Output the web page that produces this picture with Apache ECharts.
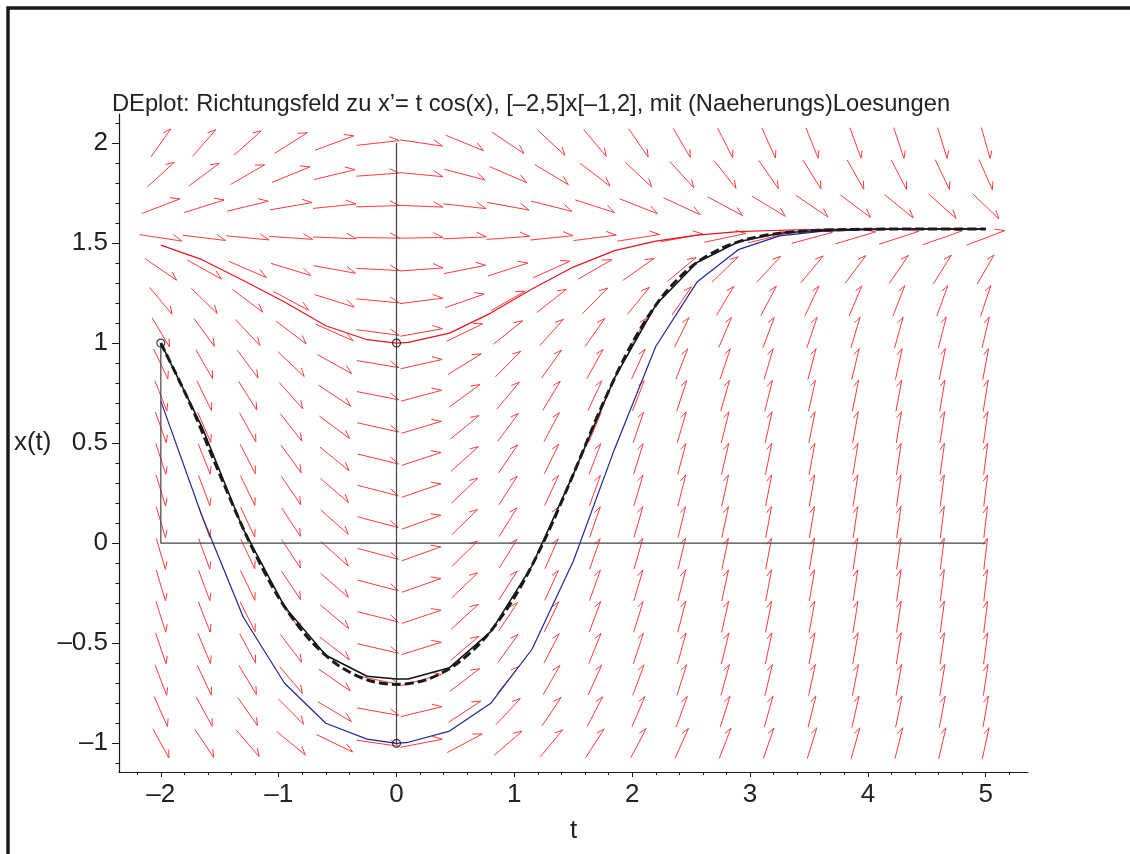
<!DOCTYPE html>
<html>
<head>
  <meta charset="utf-8">
  <title>DEplot Richtungsfeld</title>
  <script src="https://cdn.jsdelivr.net/npm/echarts@6/dist/echarts.min.js"></script>
  <style>
    html, body { margin: 0; padding: 0; background: #fff; }
    #main { width: 1130px; height: 854px; }
  </style>
</head>
<body>
<div id="main"></div>
<script type="text/javascript">
// Raster des Richtungsfeldes (20 x 20 Pfeile)
var fieldT = [-2, -1.632, -1.263, -0.895, -0.526, -0.158, 0.211, 0.579, 0.947, 1.316,
              1.684, 2.053, 2.421, 2.789, 3.158, 3.526, 3.895, 4.263, 4.632, 5];
var fieldX = [-1, -0.842, -0.684, -0.526, -0.368, -0.211, -0.053, 0.105, 0.263, 0.421,
              0.579, 0.737, 0.895, 1.053, 1.211, 1.368, 1.526, 1.684, 1.842, 2];

// Stuetzstellen der numerischen Loesungen
var stepT = [-2, -1.65, -1.3, -0.95, -0.6, -0.25, 0, 0.1, 0.45, 0.8, 1.15,
             1.5, 1.85, 2.2, 2.55, 2.9, 3.25, 3.6, 3.95, 4.3, 4.65, 5];
var redX = [1.49, 1.417, 1.313, 1.205, 1.087, 1.017, 1.0, 1.004, 1.05, 1.15, 1.27,
            1.38, 1.462, 1.51, 1.54, 1.557, 1.564, 1.568, 1.57, 1.5705, 1.5707, 1.5708];
var blueX = [0.71, 0.135, -0.37, -0.70, -0.90, -0.979, -1.0, -0.995, -0.939, -0.80, -0.53,
             -0.09, 0.47, 0.983, 1.305, 1.467, 1.536, 1.558, 1.566, 1.569, 1.5705, 1.5708];
var blackX = [1.0, 0.58, 0.07, -0.317, -0.56, -0.665, -0.679, -0.679, -0.622, -0.442, -0.113,
              0.344, 0.825, 1.19, 1.403, 1.506, 1.549, 1.564, 1.569, 1.5705, 1.5707, 1.5708];

// gestrichelte Loesung
var dashT = [-2, -1.75, -1.5, -1.25, -1, -0.75, -0.5, -0.25, 0, 0.25, 0.5, 0.75, 1, 1.25,
             1.5, 1.75, 2, 2.25, 2.5, 2.75, 3, 3.25, 3.5, 3.75, 4, 4.5, 5];
var dashX = [1.0, 0.695, 0.344, 0.008, -0.271, -0.474, -0.608, -0.683, -0.706, -0.683, -0.608,
             -0.474, -0.271, 0.008, 0.344, 0.695, 1.0, 1.229, 1.381, 1.472, 1.523, 1.549,
             1.561, 1.567, 1.569, 1.5707, 1.5708];

// Anfangswerte
var startT = [-2, 0, 0];
var startX = [1, 1, -1];

// Hilfslinien
var guideV = [[0, -1], [0, 2]];
var guideH = [[-2, 1], [-2, 0], [5, 0]];

// Achsenbeschriftung
var tTicks = [-2, -1, 0, 1, 2, 3, 4, 5];
var xTicks = [-1, -0.5, 0, 0.5, 1, 1.5, 2];
var tMinor = [];
for (var i = -11; i <= 26; i++) tMinor.push(Math.round(i * 2) / 10);
var xMinor = [];
for (var j = -11; j <= 21; j++) xMinor.push(j / 10);

var FONT = "'Liberation Sans Narrow', 'Liberation Sans', Arial, sans-serif";

function slope(t, x) { return t * Math.cos(x); }   // x' = t cos(x)

function fmt(v) {
  return v < 0 ? '\u2013' + String(-v) : String(v);
}

function zip(ts, xs) {
  var out = [];
  for (var k = 0; k < ts.length; k++) out.push([ts[k], xs[k]]);
  return out;
}

var fieldData = [];
fieldT.forEach(function (t) {
  fieldX.forEach(function (x) { fieldData.push([t, x]); });
});
var cellT = fieldT[1] - fieldT[0];
var cellX = fieldX[1] - fieldX[0];

var myChart = echarts.init(document.getElementById('main'));

function renderArrow(params, api) {
  var t = api.value(0), x = api.value(1);
  var c = api.coord([t, x]);
  var s = api.size([1, 1]);
  var u = 1 / cellT, v = slope(t, x) / cellX;
  var n = Math.sqrt(u * u + v * v);
  var dx = u / n * cellT * s[0];
  var dy = -v / n * cellX * s[1];
  var len = Math.sqrt(dx * dx + dy * dy);
  var p0 = [c[0] - dx / 2, c[1] - dy / 2];
  var p1 = [c[0] + dx / 2, c[1] + dy / 2];
  // einseitige Pfeilspitze
  var bx = -dx / len, by = -dy / len;
  var a = 28 * Math.PI / 180;
  var rx = bx * Math.cos(a) - by * Math.sin(a);
  var ry = bx * Math.sin(a) + by * Math.cos(a);
  var bl = 0.25 * len;
  var p2 = [p1[0] + rx * bl, p1[1] + ry * bl];
  return {
    type: 'polyline',
    shape: { points: [p0, p1, p2] },
    style: { stroke: '#ff3b3b', lineWidth: 1, fill: null }
  };
}

var axisCommon = {
  type: 'value',
  splitLine: { show: false },
  axisLine: { onZero: false, lineStyle: { color: '#1a1a1a', width: 1.2 } }
};

myChart.setOption({
  backgroundColor: '#fff',
  animation: false,
  title: {
    text: "DEplot: Richtungsfeld zu x\u2019= t cos(x), [\u20132,5]x[\u20131,2], mit (Naeherungs)Loesungen",
    left: 107,
    top: 87,
    textStyle: { fontFamily: FONT, fontSize: 23.7, fontWeight: 'normal', color: '#222' }
  },
  graphic: [{
    type: 'polyline',
    shape: { points: [[8, 854], [8, 8], [1130, 8]] },
    style: { stroke: '#1a1a1a', lineWidth: 3.5, fill: null }
  }],
  grid: { left: 119, top: 114, right: 102, bottom: 82 },
  xAxis: [
    Object.assign({}, axisCommon, {
      position: 'bottom',
      min: -2.355, max: 5.359,
      name: 't', nameLocation: 'middle', nameGap: 46,
      nameTextStyle: { fontFamily: FONT, fontSize: 26, color: '#222' },
      axisTick: { customValues: tTicks, length: 5, lineStyle: { color: '#1a1a1a' } },
      axisLabel: { customValues: tTicks, margin: 10, formatter: fmt,
                   fontFamily: FONT, fontSize: 26, color: '#222' }
    }),
    Object.assign({}, axisCommon, {
      position: 'bottom', offset: 0,
      min: -2.355, max: 5.359,
      axisLine: { show: false, onZero: false },
      axisTick: { customValues: tMinor, length: 3, lineStyle: { color: '#1a1a1a' } },
      axisLabel: { show: false }
    })
  ],
  yAxis: [
    Object.assign({}, axisCommon, {
      position: 'left',
      min: -1.1435, max: 2.145,
      name: 'x(t)', nameLocation: 'middle', nameGap: 67, nameRotate: 0,
      nameTextStyle: { fontFamily: FONT, fontSize: 26, color: '#222' },
      axisTick: { customValues: xTicks, length: 7, lineStyle: { color: '#1a1a1a' } },
      axisLabel: { customValues: xTicks, margin: 11, formatter: fmt,
                   fontFamily: FONT, fontSize: 26, color: '#222' }
    }),
    Object.assign({}, axisCommon, {
      position: 'left', offset: 0,
      min: -1.1435, max: 2.145,
      axisLine: { show: false, onZero: false },
      axisTick: { customValues: xMinor, length: 3.5, lineStyle: { color: '#1a1a1a' } },
      axisLabel: { show: false }
    })
  ],
  series: [
    {
      name: 'Richtungsfeld',
      type: 'custom',
      renderItem: renderArrow,
      data: fieldData,
      silent: true,
      clip: false
    },
    {
      type: 'line', data: guideV, showSymbol: false, silent: true,
      lineStyle: { color: '#444', width: 1.2 }
    },
    {
      type: 'line', data: guideH, showSymbol: false, silent: true,
      lineStyle: { color: '#444', width: 1.2 }
    },
    {
      name: 'rot', type: 'line', data: zip(stepT, redX), showSymbol: false,
      lineStyle: { color: '#e8131c', width: 1.2 }
    },
    {
      name: 'blau', type: 'line', data: zip(stepT, blueX), showSymbol: false,
      lineStyle: { color: '#23239a', width: 1.2 }
    },
    {
      name: 'schwarz', type: 'line', data: zip(stepT, blackX), showSymbol: false,
      lineStyle: { color: '#111', width: 1.5 }
    },
    {
      name: 'gestrichelt', type: 'line', data: zip(dashT, dashX), showSymbol: false,
      smooth: 0.3,
      lineStyle: { color: '#1a1a1a', width: 3, type: [9, 4] }
    },
    {
      name: 'Anfangswerte', type: 'scatter', data: zip(startT, startX),
      symbol: 'circle', symbolSize: 8, z: 10,
      itemStyle: { color: 'rgba(255,255,255,0)', borderColor: '#111', borderWidth: 1.2 }
    }
  ]
});
</script>
</body>
</html>
